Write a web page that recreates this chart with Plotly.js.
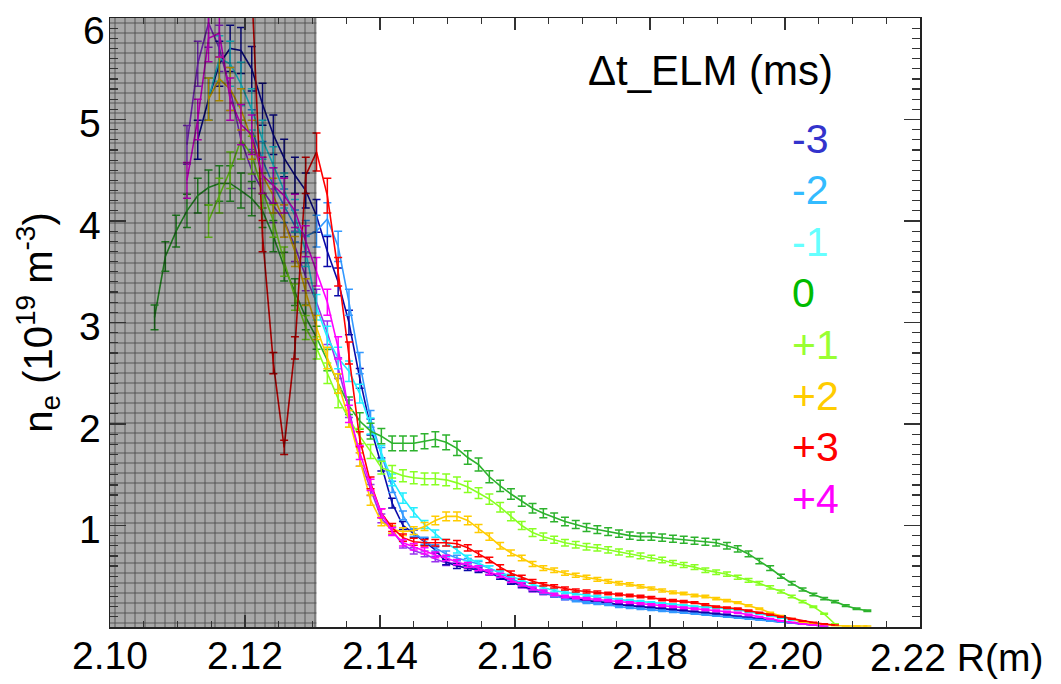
<!DOCTYPE html>
<html>
<head>
<meta charset="utf-8">
<script src="https://cdn.plot.ly/plotly-3.0.1.min.js"></script>
<style>
  html, body { margin: 0; padding: 0; background: #fff; }
  #chart { width: 1061px; height: 684px; }
</style>
</head>
<body>
<div id="chart"></div>
<script>
// ---- data ----
// radius grid (m) of the measurement points
const R = [2.1050,2.1066,2.1082,2.1098,2.1114,2.1130,2.1146,2.1162,2.1178,2.1194,
           2.1210,2.1226,2.1242,2.1258,2.1274,2.1290,2.1306,2.1322,2.1338,2.1354,
           2.1370,2.1386,2.1402,2.1418,2.1434,2.1450,2.1466,2.1482,2.1498,2.1514,
           2.1530,2.1546,2.1562,2.1578,2.1594,2.1610,2.1626,2.1642,2.1658,2.1674,
           2.1690,2.1706,2.1722,2.1738,2.1754,2.1770,2.1786,2.1802,2.1818,2.1834,
           2.1850,2.1866,2.1882,2.1898,2.1914,2.1930,2.1946,2.1962,2.1978,2.1994,
           2.2010,2.2026,2.2042,2.2058,2.2074,2.2090,2.2106,2.2122,2.2138];

const n = null;
const neM3 = [n,n,n,n,n,4.8,5.2,5.55,5.7,5.68, 5.5,5.15,4.85,4.62,4.45,4.3,4.05,3.7,3.4,3.0,
  2.45,1.97,1.6,1.22,1.0,0.92,0.84,0.76,0.64,0.6, 0.58,0.56,0.54,0.49,0.44,0.41,0.37,0.34,0.31,0.29,
  0.28,0.26,0.25,0.24,0.22,0.21,0.2,0.19,0.18,0.17, 0.16,0.15,0.14,0.13,0.12,0.1,0.09,0.08,0.06,0.05,
  0.04,0.03,0.02,0.01,n,n,n,n,n];
const neM2 = [n,n,n,n,n,n,n,n,n,n, 4.9,4.6,4.35,4.15,3.95,3.85,3.9,4.02,3.75,3.2,
  2.6,2.05,1.7,1.38,1.1,0.93,0.85,0.78,0.72,0.68, 0.65,0.62,0.58,0.53,0.48,0.43,0.38,0.34,0.31,0.28,
  0.26,0.24,0.23,0.22,0.2,0.19,0.18,0.17,0.16,0.15, 0.14,0.13,0.12,0.11,0.1,0.09,0.08,0.07,0.06,0.05,
  0.04,0.03,0.02,0.01,n,n,n,n,n];
const neM1 = [n,n,n,n,n,n,5.2,5.6,5.55,5.35, 5.1,4.8,4.55,4.3,4.05,3.7,3.15,2.85,2.65,2.52,
  2.3,1.98,1.72,1.45,1.27,1.13,1.01,0.92,0.83,0.76, 0.68,0.63,0.58,0.54,0.5,0.46,0.42,0.39,0.36,0.34,
  0.33,0.31,0.3,0.285,0.27,0.26,0.25,0.24,0.23,0.22, 0.21,0.2,0.195,0.19,0.18,0.17,0.15,0.13,0.11,0.09,
  0.07,0.05,0.03,0.015,n,n,n,n,n];
const ne0 = [n,3.05,3.65,3.9,4.1,4.25,4.33,4.37,4.37,4.3, 4.22,4.1,3.85,3.55,3.3,3.05,2.85,2.63,2.4,2.18,
  2.03,1.93,1.88,1.81,1.81,1.81,1.83,1.85,1.82,1.76, 1.67,1.6,1.48,1.39,1.31,1.24,1.17,1.12,1.08,1.04,
  1.01,0.98,0.96,0.94,0.92,0.9,0.89,0.89,0.88,0.87, 0.86,0.85,0.84,0.83,0.8,0.77,0.72,0.65,0.58,0.5,
  0.43,0.37,0.32,0.28,0.25,0.21,0.18,0.16,n];
const neP1 = [n,n,n,n,n,n,4.0,4.25,4.5,4.8, 4.65,4.3,4.0,3.6,3.25,2.95,2.75,2.5,2.25,2.05,
  1.88,1.73,1.57,1.53,1.49,1.47,1.46,1.46,1.45,1.42, 1.38,1.32,1.26,1.18,1.09,1.0,0.93,0.89,0.86,0.83,
  0.81,0.79,0.78,0.76,0.74,0.72,0.7,0.68,0.66,0.63, 0.61,0.59,0.56,0.54,0.52,0.49,0.46,0.43,0.39,0.35,
  0.3,0.25,0.2,0.13,0.03,n,n,n,n];
const neP2 = [n,n,n,n,n,n,5.2,5.4,5.3,5.1, 4.8,4.45,4.25,4.0,3.7,3.3,2.95,2.65,2.4,2.05,
  1.65,1.25,1.04,0.96,0.94,0.95,0.99,1.05,1.09,1.09, 1.05,0.97,0.89,0.8,0.73,0.68,0.62,0.58,0.56,0.53,
  0.51,0.49,0.47,0.45,0.43,0.42,0.4,0.38,0.36,0.34, 0.33,0.31,0.3,0.28,0.26,0.24,0.21,0.18,0.14,0.11,
  0.08,0.05,0.03,0.02,0.015,0.01,0.01,0.01,n];
const neP3 = [n,n,n,n,n,n,n,n,n,n, 6.3,3.85,2.6,1.77,2.75,4.45,4.68,4.25,3.5,2.7,
  1.85,1.42,1.12,0.98,0.88,0.84,0.83,0.83,0.83,0.82, 0.78,0.72,0.66,0.59,0.53,0.49,0.45,0.42,0.4,0.38,
  0.36,0.35,0.34,0.33,0.32,0.31,0.3,0.29,0.27,0.26, 0.25,0.24,0.22,0.2,0.19,0.18,0.16,0.14,0.12,0.1,
  0.08,0.06,0.045,0.03,0.02,n,n,n,n];
const neP4 = [n,n,n,n,4.4,5.0,5.8,5.85,5.2,4.95, 4.85,4.45,4.35,4.25,4.1,3.8,3.5,3.2,2.75,2.1,
  1.72,1.4,1.12,0.94,0.83,0.79,0.75,0.71,0.68,0.64, 0.61,0.58,0.54,0.51,0.46,0.42,0.38,0.35,0.32,0.3,
  0.29,0.28,0.27,0.26,0.25,0.24,0.23,0.22,0.21,0.2, 0.19,0.18,0.17,0.16,0.15,0.14,0.12,0.1,0.08,0.06,
  0.045,0.03,0.02,0.01,n,n,n,n,n];
const neExtra = [n,n,n,n,4.75,5.55,5.95,5.7,5.3,4.8, 4.5,4.3,4.15,4.0,3.75,3.45,3.2,2.9,2.55,2.15,
  1.65,1.35,1.07,0.95,0.81,0.75,0.72,0.67,0.63,0.63, 0.6,0.57,0.53,0.49,0.45,0.4,0.36,0.33,0.31,0.28,
  0.27,0.25,0.24,0.23,0.22,0.21,0.2,0.19,0.18,0.17, 0.16,0.15,0.14,0.13,0.12,0.11,0.1,0.085,0.07,0.055,
  0.04,0.03,0.02,0.01,n,n,n,n,n];

const labels = ['-3','-2','-1','0','+1','+2','+3','+4'];
const xTicks = [2.10,2.12,2.14,2.16,2.18,2.20,2.22];
const xTickText = ['2.10','2.12','2.14','2.16','2.18','2.20',''];
const xLastLabel = '2.22 R(m)';
const yTicks = [1,2,3,4,5,6];
const yTickText = ['1','2','3','4','5',''];
const yTopLabel = '6';
const shadeR = [2.10, 2.1306];
const yRange = [0, 6];
const xRange = [2.10, 2.22];

// ---- styling ----
const lineColors  = ['#0a0aa8','#3399ff','#22eeff','#2db22d','#88ff22','#ffcc00','#ff0000','#ff00ff'];
const labelColors = ['#3333cc','#33bbff','#66ffff','#00bb00','#99ff33','#ffcc00','#ff0000','#ff00ff'];
const extraColor = '#9933ee';
const FONT = 'Liberation Sans, Arial, sans-serif';

function mk(y, color, name) {
  return {
    type: 'scatter', mode: 'lines', x: R, y: y, name: name,
    line: {color: color, width: 1.6},
    error_y: {type: 'percent', value: 4, color: color, thickness: 1.5, width: 4},
    connectgaps: false, hoverinfo: 'skip', cliponaxis: true
  };
}
const seriesData = [neM3, neM2, neM1, ne0, neP1, neP2, neP3, neP4];
const traces = [mk(neExtra, extraColor, 'extra')];
seriesData.forEach((s, i) => traces.push(mk(s, lineColors[i], labels[i])));

// shaded (excluded) region drawn on top of the profiles
traces.push({
  type: 'scatter', mode: 'lines',
  x: [shadeR[0], shadeR[1], shadeR[1], shadeR[0], shadeR[0]],
  y: [yRange[0], yRange[0], yRange[1], yRange[1], yRange[0]],
  fill: 'toself', line: {width: 0, color: 'rgba(0,0,0,0)'},
  fillcolor: 'rgba(0,0,0,0.34)',
  fillpattern: {shape: '+', size: 10, solidity: 0.15, fgcolor: '#000000', fgopacity: 0.6, bgcolor: 'rgba(0,0,0,0.34)'},
  hoverinfo: 'skip'
});

const L = 110, T = 18, W = 810, H = 609;
const px2paperX = p => (p - L) / W;
const px2paperY = p => (T + H - p) / H;

const annotations = [{
  xref: 'paper', yref: 'paper', x: px2paperX(586), y: px2paperY(70),
  xanchor: 'left', yanchor: 'middle', showarrow: false,
  text: 'Δt_ELM (ms)', font: {family: FONT, size: 42, color: '#000'}
}, {
  xref: 'paper', yref: 'paper', x: px2paperX(868), y: px2paperY(657),
  xanchor: 'left', yanchor: 'middle', showarrow: false,
  text: xLastLabel, font: {family: FONT, size: 39, color: '#000'}
}, {
  xref: 'paper', yref: 'paper', x: px2paperX(107), y: px2paperY(31),
  xanchor: 'right', yanchor: 'middle', showarrow: false,
  text: yTopLabel, font: {family: FONT, size: 39, color: '#000'}
}];
labels.forEach((lab, i) => {
  annotations.push({
    xref: 'paper', yref: 'paper', x: px2paperX(790), y: px2paperY(139 + i * 51.4),
    xanchor: 'left', yanchor: 'middle', showarrow: false,
    text: lab, font: {family: FONT, size: 41, color: labelColors[i]}
  });
});

const layout = {
  width: 1061, height: 684,
  margin: {l: L, r: 1061 - L - W, t: T, b: 684 - T - H, pad: 0},
  paper_bgcolor: '#ffffff', plot_bgcolor: '#ffffff',
  showlegend: false,
  font: {family: FONT, color: '#000'},
  xaxis: {
    range: xRange, tickvals: xTicks, ticktext: xTickText,
    showline: true, linecolor: '#222', linewidth: 1.5, mirror: 'allticks',
    ticks: 'inside', ticklen: 12, tickwidth: 1.5, tickcolor: '#333',
    minor: {dtick: 0.005, ticks: 'inside', ticklen: 6, tickwidth: 1.2, tickcolor: '#333'},
    showgrid: false, zeroline: false,
    tickfont: {family: FONT, size: 39, color: '#000'},
    ticklabelstandoff: -6, ticklabeloverflow: 'allow'
  },
  yaxis: {
    range: yRange, tickvals: yTicks, ticktext: yTickText,
    showline: true, linecolor: '#222', linewidth: 1.5, mirror: 'allticks',
    ticks: 'inside', ticklen: 16, tickwidth: 1.5, tickcolor: '#333',
    minor: {dtick: 0.1, ticks: 'inside', ticklen: 8, tickwidth: 1.2, tickcolor: '#333'},
    showgrid: false, zeroline: false,
    tickfont: {family: FONT, size: 39, color: '#000'},
    ticklabeloverflow: 'allow', ticklabelshift: 4,
    title: {text: 'n<sub>e</sub> (10<sup>19</sup> m<sup>-3</sup>)', font: {family: FONT, size: 40, color: '#000'}, standoff: 14}
  },
  annotations: annotations
};

Plotly.newPlot('chart', traces, layout, {displayModeBar: false, staticPlot: true});
</script>
</body>
</html>
